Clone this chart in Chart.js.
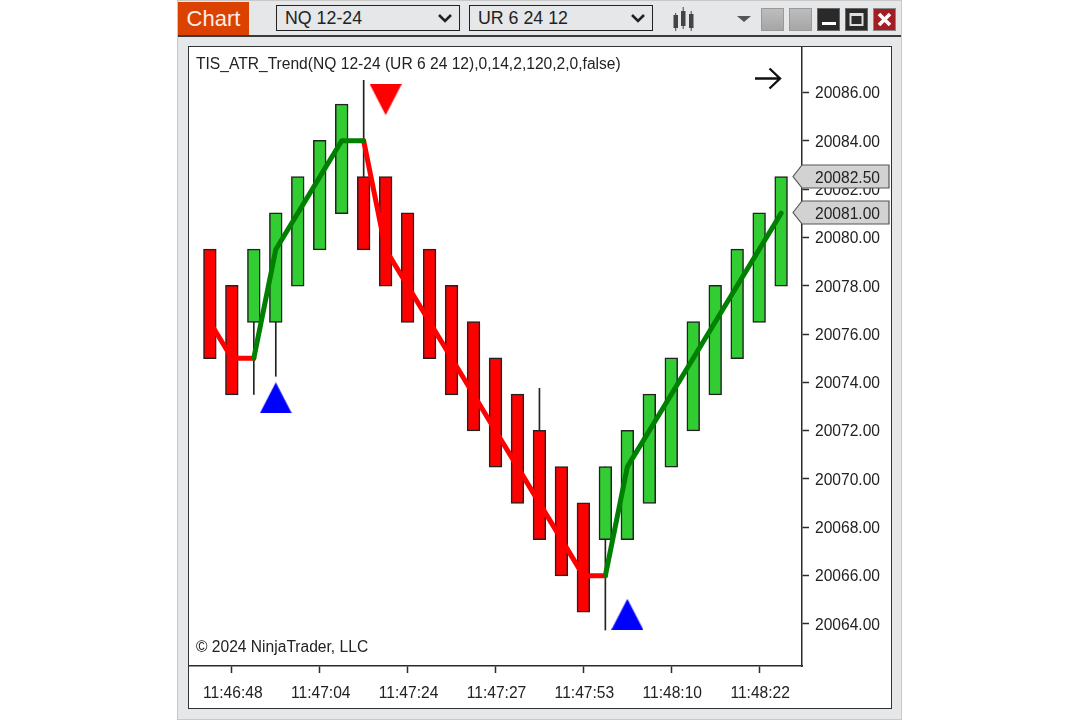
<!DOCTYPE html>
<html lang="en">
<head>
  <meta charset="UTF-8">
  <title>Chart</title>
  <script src="https://cdn.jsdelivr.net/npm/chart.js"></script>
  <style>
    html, body {
      margin: 0;
      padding: 0;
      background: white;
      font-family: "Liberation Sans", Arial, sans-serif;
    }
    body {
      width: 1080px;
      height: 720px;
      position: relative;
      overflow: hidden;
    }
    #frame {
      position: absolute;
      left: 177px;
      top: 0;
      width: 723px;
      height: 718px;
      background: #e6e7e8;
      border: 1px solid #c8c8c8;
    }
    #divider {
      position: absolute;
      left: 178px;
      top: 35px;
      width: 723px;
      height: 2px;
      background: #3a3a3a;
    }
    #chartTab {
      position: absolute;
      left: 178px;
      top: 2px;
      width: 71px;
      height: 33px;
      background: #db4200;
      color: #fdeee6;
      font-size: 22px;
      line-height: 34px;
      text-align: center;
    }
    .select {
      position: absolute;
      top: 5px;
      width: 182px;
      height: 24px;
      border: 1.5px solid #222;
      font-size: 17.8px;
      line-height: 25px;
      text-indent: 8px;
      color: #222;
    }
    .select svg {
      position: absolute;
      right: 6px;
      top: 8px;
    }
    .winbtn {
      position: absolute;
      top: 8px;
      width: 23px;
      height: 23px;
      box-sizing: border-box;
    }
    .grey { background: linear-gradient(#bdbdbd, #a6a6a6); border: 1px solid #999; }
    .dark { background: #2a2a2a; border: 1px solid #666; }
    #box {
      position: absolute;
      left: 188px;
      top: 46px;
      width: 702px;
      height: 661px;
      background: white;
      border: 1.5px solid #333;
      box-sizing: content-box;
    }
    #cycleChart {
      position: absolute;
      left: 0;
      top: 0;
    }
    .note {
      position: absolute;
      font-size: 15.6px;
      color: #222;
      white-space: nowrap;
    }
  </style>
</head>
<body>
  <div id="frame"></div>
  <div id="divider"></div>
  <div id="chartTab">Chart</div>

  <div class="select" style="left:276px">NQ 12-24
    <svg width="16" height="10"><path d="M2 1 L8 7 L14 1" fill="none" stroke="#222" stroke-width="2.6"/></svg>
  </div>
  <div class="select" style="left:469px">UR 6 24 12
    <svg width="16" height="10"><path d="M2 1 L8 7 L14 1" fill="none" stroke="#222" stroke-width="2.6"/></svg>
  </div>

  <svg style="position:absolute;left:672px;top:6px" width="24" height="26">
    <path d="M3.7 7 V25 M11.2 1 V23 M19.2 5 V25" stroke="#444" stroke-width="1"/>
    <rect x="1.5" y="9" width="4.5" height="13" fill="#444"/>
    <rect x="9" y="5" width="4.5" height="15" fill="#444"/>
    <rect x="17" y="8" width="4.5" height="14" fill="#444"/>
  </svg>
  <svg style="position:absolute;left:736px;top:15px" width="16" height="8"><path d="M1 1 H15 L8 7 Z" fill="#555"/></svg>

  <div class="winbtn grey" style="left:761px"></div>
  <div class="winbtn grey" style="left:789px"></div>
  <div class="winbtn dark" style="left:817px"><svg width="21" height="21"><rect x="4" y="13" width="14" height="3" fill="white"/></svg></div>
  <div class="winbtn dark" style="left:845px"><svg width="21" height="21"><rect x="4.5" y="5" width="12" height="11" fill="none" stroke="#ddd" stroke-width="2"/><rect x="4" y="4" width="13" height="3" fill="#ddd"/></svg></div>
  <div class="winbtn" style="left:873px;background:#a31d24;border:1px solid #888"><svg width="21" height="21"><path d="M5 5 L16 16 M16 5 L5 16" stroke="white" stroke-width="3.6"/></svg></div>

  <div id="box">
    <canvas id="cycleChart" width="702" height="661"></canvas>
  </div>

  <div class="note" style="left:196px;top:55px">TIS_ATR_Trend(NQ 12-24 (UR 6 24 12),0,14,2,120,2,0,false)</div>
  <div class="note" style="left:196px;top:638px">© 2024 NinjaTrader, LLC</div>
  <svg style="position:absolute;left:752px;top:66px" width="30" height="26">
    <path d="M3 12.5 H28 M17.5 2.5 L28 12.5 L17.5 22.5" fill="none" stroke="#111" stroke-width="2.4"/>
  </svg>

  <script>
    const opens = [20079.5, 20078, 20076.5, 20076.5, 20078, 20079.5, 20081, 20082.5, 20082.5, 20081, 20079.5, 20078, 20076.5, 20075, 20073.5, 20072, 20070.5, 20069, 20067.5, 20067.5, 20069, 20070.5, 20072, 20073.5, 20075, 20076.5, 20078];
    const closes = [20075, 20073.5, 20079.5, 20081, 20082.5, 20084, 20085.5, 20079.5, 20078, 20076.5, 20075, 20073.5, 20072, 20070.5, 20069, 20067.5, 20066, 20064.5, 20070.5, 20072, 20073.5, 20075, 20076.5, 20078, 20079.5, 20081, 20082.5];
    const highs = [20079.5, 20078, 20079.5, 20081, 20082.5, 20084, 20085.5, 20086.5, 20082.5, 20081, 20079.5, 20078, 20076.5, 20075, 20073.5, 20073.75, 20070.5, 20069, 20070.5, 20072, 20073.5, 20075, 20076.5, 20078, 20079.5, 20081, 20082.5];
    const lows = [20075, 20073.5, 20073.5, 20074.25, 20078, 20079.5, 20081, 20079.5, 20078, 20076.5, 20075, 20073.5, 20072, 20070.5, 20069, 20067.5, 20066, 20064.5, 20063.75, 20067.5, 20069, 20070.5, 20072, 20073.5, 20075, 20076.5, 20078];

    const trendDown = [20076.5, 20075, 20075, null, null, null, null, 20084, 20079.5, 20078, 20076.5, 20075, 20073.5, 20072, 20070.5, 20069, 20067.5, 20066, 20066, null, null, null, null, null, null, null, null];
    const trendUp = [null, null, 20075, 20079.5, 20081, 20082.5, 20084, 20084, null, null, null, null, null, null, null, null, null, null, 20066, 20070.5, 20072, 20073.5, 20075, 20076.5, 20078, 20079.5, 20081];

    const buySignalBars = [3, 19];
    const buySignalPrices = [20073.36, 20064.4];
    const sellSignalBars = [8];
    const sellSignalPrices = [20085.7];

    const timeTickBars = [1, 5, 9, 13, 17, 21, 25];
    const timeLabels = ["11:46:48", "11:47:04", "11:47:24", "11:47:27", "11:47:53", "11:48:10", "11:48:22"];
    const priceTicks = [20064, 20066, 20068, 20070, 20072, 20074, 20076, 20078, 20080, 20082, 20084, 20086];
    const priceMarkers = [20082.5, 20081];

    const BORDER = "#2b2b2b";
    const TEXT = "#222";
    const FONT = { family: "'Liberation Sans', Arial, sans-serif", size: 15.6 };

    function triangleImage(color, pointDown) {
      const c = document.createElement("canvas");
      c.width = 32;
      c.height = 31;
      const g = c.getContext("2d");
      g.fillStyle = color;
      g.beginPath();
      if (pointDown) {
        g.moveTo(0, 0); g.lineTo(32, 0); g.lineTo(16, 31);
      } else {
        g.moveTo(0, 31); g.lineTo(32, 31); g.lineTo(16, 0);
      }
      g.closePath();
      g.fill();
      return c;
    }

    // small grey price tags on the right axis
    const priceTagPlugin = {
      id: "priceTags",
      afterDraw(chart) {
        const c = chart.ctx;
        const yScale = chart.scales.y;
        const right = chart.chartArea.right;
        c.save();
        priceMarkers.forEach((p) => {
          const y = Math.round(yScale.getPixelForValue(p)) - 0.5;
          c.beginPath();
          c.moveTo(right - 9, y);
          c.lineTo(right, y - 11.5);
          c.lineTo(right + 87, y - 11.5);
          c.lineTo(right + 87, y + 11.5);
          c.lineTo(right, y + 11.5);
          c.closePath();
          c.fillStyle = "#d2d2d2";
          c.fill();
          c.strokeStyle = "#555";
          c.lineWidth = 1.2;
          c.stroke();
          c.fillStyle = TEXT;
          c.font = `${FONT.size}px ${FONT.family}`;
          c.textBaseline = "middle";
          c.textAlign = "left";
          c.fillText(p.toFixed(2), right + 13, y + 2);
        });
        c.restore();
      }
    };

    const barIndex = opens.map((_, i) => i);
    // only bars that stick out of their body get a wick
    const wickBars = barIndex.filter((i) => highs[i] > Math.max(opens[i], closes[i]) || lows[i] < Math.min(opens[i], closes[i]));

    const ctx = document.getElementById("cycleChart").getContext("2d");
    const chart = new Chart(ctx, {
      data: {
        datasets: [
          {
            type: "line",
            data: barIndex.map((i) => ({ x: i, y: trendDown[i] })),
            borderColor: "#ff0000",
            borderWidth: 5,
            pointRadius: 0,
            borderJoinStyle: "round",
            borderCapStyle: "round",
            order: 2
          },
          {
            type: "line",
            data: barIndex.map((i) => ({ x: i, y: trendUp[i] })),
            borderColor: "#008000",
            borderWidth: 5,
            pointRadius: 0,
            borderJoinStyle: "round",
            borderCapStyle: "round",
            order: 1
          },
          {
            type: "line",
            showLine: false,
            data: buySignalBars.map((b, i) => ({ x: b, y: buySignalPrices[i] })),
            pointStyle: triangleImage("#0000ff", false),
            order: 0
          },
          {
            type: "line",
            showLine: false,
            data: sellSignalBars.map((b, i) => ({ x: b, y: sellSignalPrices[i] })),
            pointStyle: triangleImage("#ff0000", true),
            order: 0
          },
          {
            type: "bar",
            grouped: false,
            data: barIndex.map((i) => ({ x: i, y: [Math.min(opens[i], closes[i]), Math.max(opens[i], closes[i])] })),
            backgroundColor: barIndex.map((i) => closes[i] > opens[i] ? "#32cd32" : "#ff0000"),
            borderColor: "#222",
            borderWidth: 1.5,
            borderSkipped: false,
            barThickness: 12,
            inflateAmount: 0.7,
            order: 3
          },
          {
            type: "bar",
            grouped: false,
            data: wickBars.map((i) => ({ x: i, y: [lows[i], highs[i]] })),
            backgroundColor: "#222",
            barThickness: 1,
            order: 4
          }
        ]
      },
      options: {
        responsive: false,
        animation: false,
        layout: { padding: 0, autoPadding: false },
        plugins: {
          legend: { display: false },
          tooltip: { enabled: false },
          title: { display: false }
        },
        scales: {
          x: {
            type: "linear",
            offset: false,
            min: -0.95,
            max: 26.95,
            afterBuildTicks(axis) {
              axis.ticks = timeTickBars.map((v) => ({ value: v }));
            },
            afterFit(axis) {
              axis.height = 42;
              axis.paddingLeft = 0;
              axis.paddingRight = 0;
            },
            border: { color: BORDER, width: 1.5 },
            grid: { offset: false, drawOnChartArea: false, drawTicks: true, tickLength: 7, tickColor: BORDER, tickWidth: 1.5 },
            ticks: {
              autoSkip: false,
              maxRotation: 0,
              padding: 11,
              labelOffset: 1,
              color: TEXT,
              font: FONT,
              callback: (v) => timeLabels[timeTickBars.indexOf(v)]
            }
          },
          y: {
            position: "right",
            min: 20062.26,
            max: 20087.88,
            afterBuildTicks(axis) {
              axis.ticks = priceTicks.map((v) => ({ value: v }));
            },
            afterFit(axis) {
              axis.width = 89;
              axis.paddingTop = 0;
              axis.paddingBottom = 0;
            },
            border: { color: BORDER, width: 1.5 },
            grid: { drawOnChartArea: false, drawTicks: true, tickLength: 7, tickColor: BORDER, tickWidth: 1.5 },
            ticks: {
              autoSkip: false,
              padding: 6,
              labelOffset: 1.5,
              color: TEXT,
              font: FONT,
              callback: (v) => v.toFixed(2)
            }
          }
        }
      },
      plugins: [priceTagPlugin]
    });
  </script>
</body>
</html>
